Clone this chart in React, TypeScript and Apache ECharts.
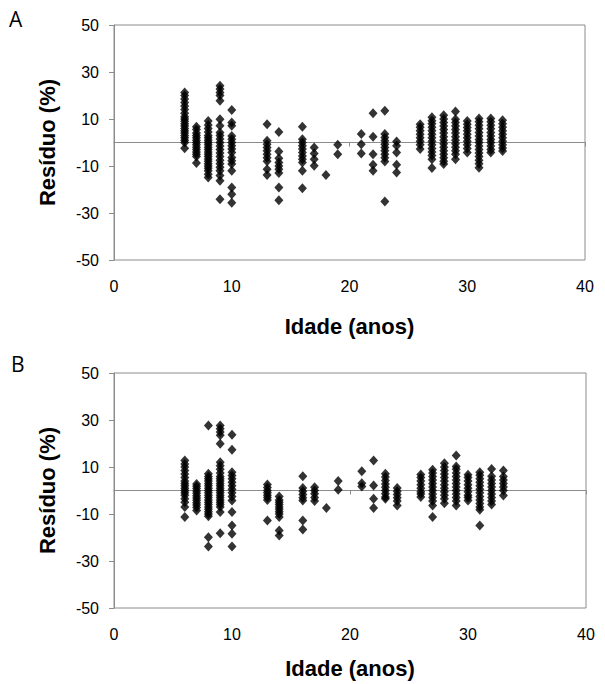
import React, { useEffect, useRef } from "react";
import * as echarts from "echarts";

const ages = [6, 7, 8, 9, 10, 13, 14, 16, 17, 18, 19, 21, 22, 23, 24, 26, 27, 28, 29, 30, 31, 32, 33];

const residuosA: number[][] = [
  [21.3, 20, 18.5, 17, 15.5, 14, 12.5, 11, 10, 9, 8, 7, 6, 5, 4, 3, 2, 1, 0, -2.4],
  [6.7, 5.5, 4, 3, 2, 1, 0, -1, -2, -3, -4, -5, -6, -8.7],
  [9.2, 7.5, 6, 4.5, 3, 2, 1, 0, -1, -2, -3, -4, -5, -6, -7, -8, -9, -10, -11, -12, -13.5, -14.9],
  [24.1, 22.8, 21.3, 20, 17.8, 9.9, 7.1, 4.3, 3, 1.5, 0, -1.5, -3, -4.5, -6, -7.5, -9, -10.5, -12, -14, -16.3, -24.1],
  [13.8, 8.5, 7.1, 2.8, 1.4, 0, -1.4, -2.8, -4.3, -6.4, -7.8, -9.2, -12, -19.2, -22, -25.6],
  [7.8, 0.7, -0.7, -2.1, -3.5, -5, -6.5, -8, -11.4, -13.8],
  [4.5, -3.8, -6.7, -8.5, -10, -11.4, -13, -19.2, -24.6],
  [6.7, 1.4, 0, -1.4, -2.8, -4.3, -5.7, -7.1, -8.5, -12, -19.5],
  [-2.1, -4.7, -7.1, -9.9],
  [-13.8],
  [-1, -5],
  [3.6, -0.7, -4.7],
  [12.4, 2.4, -5, -9.5, -12],
  [13.5, 3.6, 2.1, 0.7, -0.7, -2.1, -3.5, -5, -6.5, -8.1, -25.1],
  [0.4, -1.4, -4.3, -9.5, -12.8],
  [7.8, 6.5, 5, 3.5, 2, 0.5, -1, -2.8],
  [10.7, 9.3, 8, 6.5, 5, 3.5, 2, 0.5, -1, -2.5, -4, -5.5, -7.1, -10.9],
  [11.6, 10, 8.5, 7, 5.5, 4, 2.5, 1, -0.5, -2, -3.5, -5, -6.5, -8, -9.2],
  [13.2, 9.9, 8.5, 7, 5.5, 4, 2.5, 1, -0.5, -2, -3.5, -5, -7.1],
  [9.2, 7.8, 6.4, 5, 3.5, 2, 0.5, -1, -2.5, -4.3],
  [10.2, 8.8, 7.3, 5.8, 4.3, 2.8, 1.3, 0, -1.5, -3, -4.5, -6, -7.5, -9, -10.7],
  [10.2, 8.8, 7.3, 5.8, 4.3, 2.8, 1.3, 0, -1.5, -3, -4.3],
  [9.5, 8, 6.5, 5, 3.5, 2, 0.5, -1, -2.3, -3.6],
];

const residuosB: number[][] = [
  [12.8, 11.3, 10, 8.5, 7, 5.5, 4, 3, 2, 1, 0, -1, -2, -3.5, -5, -7, -11.3],
  [2.8, 1.8, 0.8, -0.2, -1.2, -2.2, -3.2, -4.2, -5.2, -6.2, -7.2, -8.5],
  [27.7, 7.1, 6, 5, 4, 3, 2, 1, 0, -1, -2, -3, -4, -5, -6, -7, -8, -9, -10, -11, -19.9, -23.8],
  [27.7, 26.3, 24.9, 23.5, 19.9, 12, 10.5, 9, 7.5, 6, 5, 4, 3, 2, 1, 0, -1, -2, -3, -4, -5, -6, -7, -9.2, -18.2],
  [23.7, 17.3, 7.8, 6.4, 5, 3.5, 2, 0.5, -1, -2.5, -4.3, -9.2, -14.9, -18.4, -23.8],
  [2.6, 1.3, 0, -1, -2, -3, -4, -12.8],
  [-2.6, -4, -5, -6, -7, -8, -9, -10, -11.3, -17, -19.1],
  [6.1, 1.1, -0.3, -1.7, -3.1, -4.3, -12.8, -16.6],
  [1.4, 0, -1.4, -3, -4.5],
  [-7.4],
  [4, 0.3],
  [8.2, 3.1, 1.7],
  [12.8, 2.1, -3.5, -7.4],
  [7.1, 5.7, 4.3, 2.8, 1.4, 0, -1.4, -2.8, -3.5],
  [1.1, -0.3, -1.7, -3.1, -4.5, -6.4],
  [6.8, 5.5, 4, 2.5, 1, -0.5, -1.5, -2.8],
  [8.8, 7.5, 6, 4.5, 3, 1.5, 0, -1.5, -3, -4.5, -6.4, -11.3],
  [11.6, 10, 8.5, 7, 5.5, 4, 2.5, 1, -0.5, -2, -3.5, -5.4],
  [14.9, 10.2, 9, 7.5, 6, 4.5, 3, 1.5, 0, -1.5, -3, -4.5, -6.4],
  [6.7, 5.5, 4, 2.5, 1, -0.5, -2, -3, -4.3],
  [7.8, 6.5, 5, 3.5, 2, 0.5, -1, -2.5, -4, -5.5, -7, -8.2, -14.9],
  [9.2, 6.1, 4.5, 3, 1.5, 0, -1.5, -3, -4.5, -6],
  [8.5, 6, 4.5, 3, 1.5, 0, -2.1],
];

const xMin = 0;
const xMax = 40;
const xStep = 10;
const yMin = -50;
const yMax = 50;
const yStep = 20;

const panelLabels = ["A", "B"];
const xTitle = "Idade (anos)";
const yTitle = "Resíduo (%)";

const FONT = "'Liberation Sans', Arial, sans-serif";
const GRAY = "#8c8c8c";

function toPoints(res: number[][]) {
  const pts: number[][] = [];
  ages.forEach((age, i) => res[i].forEach((v) => pts.push([age, v])));
  return pts;
}

export default function App() {
  const ref = useRef<HTMLDivElement>(null);
  useEffect(() => {
    document.body.style.margin = "0";
    const chart = echarts.init(ref.current!, undefined, { renderer: "svg" });
    const grids = [
      { left: 114, top: 25, width: 471, height: 235, nameGap: 55 },
      { left: 114, top: 373, width: 472, height: 235, nameGap: 49 },
    ];
    const xAxis: any[] = [];
    const yAxis: any[] = [];
    const series: any[] = [];
    grids.forEach((g, gi) => {
      xAxis.push({
        type: "value",
        gridIndex: gi,
        position: "bottom",
        min: xMin,
        max: xMax,
        interval: xStep,
        axisLine: { show: false, onZero: false },
        axisTick: { show: false },
        splitLine: { show: false },
        axisLabel: { fontSize: 16, color: "#000", fontFamily: FONT, margin: 18 },
        name: xTitle,
        nameLocation: "middle",
        nameGap: g.nameGap,
        nameTextStyle: { fontSize: 22, fontWeight: "bold", color: "#000", fontFamily: FONT },
      });
      xAxis.push({
        type: "value",
        gridIndex: gi,
        position: "bottom",
        min: xMin,
        max: xMax,
        interval: xStep,
        axisLine: { show: true, onZero: true, lineStyle: { color: GRAY, width: 1 } },
        axisTick: { show: true, length: 4, lineStyle: { color: GRAY } },
        splitLine: { show: false },
        axisLabel: { show: false },
      });
      yAxis.push({
        type: "value",
        gridIndex: gi,
        min: yMin,
        max: yMax,
        interval: yStep,
        axisLine: { show: true, lineStyle: { color: GRAY, width: 1 } },
        axisTick: { show: true, length: 5, lineStyle: { color: GRAY } },
        splitLine: { show: false },
        axisLabel: { fontSize: 16, color: "#000", fontFamily: FONT, margin: 15 },
        name: yTitle,
        nameLocation: "middle",
        nameRotate: 90,
        nameGap: 56,
        nameTextStyle: { fontSize: 22, fontWeight: "bold", color: "#000", fontFamily: FONT },
      });
      series.push({
        type: "scatter",
        xAxisIndex: gi * 2,
        yAxisIndex: gi,
        symbol: "diamond",
        symbolSize: [9, 10],
        itemStyle: { color: "#000" },
        data: toPoints(gi === 0 ? residuosA : residuosB),
      });
    });
    chart.setOption({
      animation: false,
      backgroundColor: "#fff",
      grid: grids.map((g) => ({
        left: g.left,
        top: g.top,
        width: g.width,
        height: g.height,
        show: true,
        borderColor: GRAY,
        borderWidth: 1,
        backgroundColor: "transparent",
      })),
      xAxis,
      yAxis,
      series,
      graphic: [
        { type: "text", left: 9, top: 8, style: { text: panelLabels[0], fontSize: 21, fontFamily: "'Open Sans', " + FONT, fill: "#000" } },
        { type: "text", left: 11, top: 353, style: { text: panelLabels[1], fontSize: 21, fontFamily: "'Open Sans', " + FONT, fill: "#000" } },
      ],
    });
    return () => chart.dispose();
  }, []);
  return <div ref={ref} style={{ width: 605, height: 684 }} />;
}
